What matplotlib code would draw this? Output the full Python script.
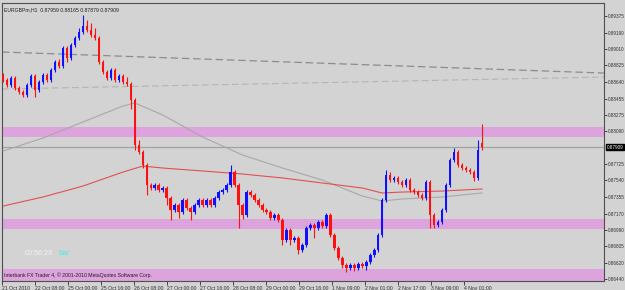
import matplotlib
matplotlib.use("Agg")
import matplotlib.pyplot as plt
import numpy as np

plt.rcParams['font.family'] = ['Liberation Sans', 'DejaVu Sans']

# ---------------- data ----------------
opens = [0.88717, 0.88661, 0.88605, 0.88683, 0.88572, 0.88527, 0.88494, 0.88605, 0.88705, 0.88549,
         0.88638, 0.88717, 0.88661, 0.88773, 0.88862, 0.88817, 0.89018, 0.88907, 0.89052, 0.89130,
         0.89197, 0.89264, 0.89219, 0.89163, 0.89130, 0.88862, 0.88750, 0.88683, 0.88773, 0.88661,
         0.88705, 0.88638, 0.88617, 0.88438, 0.87936, 0.87858, 0.87713, 0.87489, 0.87456, 0.87489,
         0.87434, 0.87456, 0.87344, 0.87210, 0.87266, 0.87188, 0.87322, 0.87233, 0.87188, 0.87266,
         0.87322, 0.87266, 0.87322, 0.87266, 0.87344, 0.87411, 0.87434, 0.87489, 0.87634, 0.87489,
         0.87266, 0.87155, 0.87411, 0.87378, 0.87322, 0.87266, 0.87210, 0.87188, 0.87121, 0.87155,
         0.87099, 0.86876, 0.86987, 0.86876, 0.86898, 0.86764, 0.86820, 0.87010, 0.87043, 0.87010,
         0.87076, 0.87032, 0.87155, 0.86931, 0.86786, 0.86675, 0.86597, 0.86563, 0.86597, 0.86563,
         0.86608, 0.86585, 0.86630, 0.86708, 0.86764, 0.86931, 0.87322, 0.87601, 0.87545, 0.87568,
         0.87523, 0.87489, 0.87545, 0.87434, 0.87411, 0.87378, 0.87344, 0.87523, 0.87155, 0.87043,
         0.87076, 0.87210, 0.87489, 0.87768, 0.87858, 0.87713, 0.87679, 0.87657, 0.87634, 0.87568,
         0.87959]
closes = [0.88661, 0.88605, 0.88683, 0.88572, 0.88527, 0.88494, 0.88605, 0.88705, 0.88549, 0.88638,
          0.88717, 0.88661, 0.88773, 0.88862, 0.88817, 0.89018, 0.88907, 0.89052, 0.89130, 0.89197,
          0.89264, 0.89219, 0.89163, 0.89130, 0.88862, 0.88750, 0.88683, 0.88773, 0.88661, 0.88705,
          0.88638, 0.88617, 0.88438, 0.87936, 0.87858, 0.87713, 0.87489, 0.87456, 0.87489, 0.87434,
          0.87456, 0.87344, 0.87210, 0.87266, 0.87188, 0.87322, 0.87233, 0.87188, 0.87266, 0.87322,
          0.87266, 0.87322, 0.87266, 0.87344, 0.87411, 0.87434, 0.87489, 0.87634, 0.87489, 0.87266,
          0.87155, 0.87411, 0.87378, 0.87322, 0.87266, 0.87210, 0.87188, 0.87121, 0.87155, 0.87099,
          0.86876, 0.86987, 0.86876, 0.86898, 0.86764, 0.86820, 0.87010, 0.87043, 0.87010, 0.87076,
          0.87032, 0.87155, 0.86931, 0.86786, 0.86675, 0.86597, 0.86563, 0.86597, 0.86563, 0.86608,
          0.86585, 0.86630, 0.86708, 0.86764, 0.86931, 0.87322, 0.87601, 0.87545, 0.87568, 0.87523,
          0.87489, 0.87545, 0.87434, 0.87411, 0.87378, 0.87344, 0.87523, 0.87155, 0.87043, 0.87076,
          0.87210, 0.87489, 0.87768, 0.87858, 0.87713, 0.87679, 0.87657, 0.87634, 0.87568, 0.87880,
          0.87909]
highs = [0.88742, 0.88686, 0.88708, 0.88708, 0.88597, 0.88552, 0.88630, 0.88730, 0.88730, 0.88663,
         0.88742, 0.88742, 0.88798, 0.88887, 0.88900, 0.89043, 0.89043, 0.89077, 0.89155, 0.89240,
         0.89387, 0.89330, 0.89300, 0.89240, 0.89155, 0.88887, 0.88775, 0.88798, 0.88798, 0.88730,
         0.88730, 0.88700, 0.88642, 0.88463, 0.87990, 0.87883, 0.87738, 0.87514, 0.87514, 0.87514,
         0.87481, 0.87481, 0.87369, 0.87291, 0.87291, 0.87347, 0.87347, 0.87258, 0.87291, 0.87347,
         0.87347, 0.87347, 0.87347, 0.87369, 0.87436, 0.87459, 0.87514, 0.87713, 0.87659, 0.87514,
         0.87291, 0.87436, 0.87436, 0.87403, 0.87347, 0.87291, 0.87235, 0.87213, 0.87180, 0.87180,
         0.87124, 0.87012, 0.87012, 0.86923, 0.86923, 0.86845, 0.87035, 0.87068, 0.87068, 0.87101,
         0.87101, 0.87180, 0.87180, 0.86956, 0.86811, 0.86700, 0.86622, 0.86622, 0.86622, 0.86633,
         0.86633, 0.86655, 0.86733, 0.86789, 0.86956, 0.87347, 0.87660, 0.87640, 0.87593, 0.87593,
         0.87548, 0.87570, 0.87570, 0.87459, 0.87436, 0.87403, 0.87548, 0.87548, 0.87180, 0.87101,
         0.87235, 0.87514, 0.87793, 0.87902, 0.87883, 0.87738, 0.87704, 0.87682, 0.87659, 0.87990,
         0.88165]
lows = [0.88636, 0.88580, 0.88580, 0.88547, 0.88502, 0.88469, 0.88469, 0.88580, 0.88472, 0.88524,
        0.88613, 0.88636, 0.88636, 0.88748, 0.88792, 0.88792, 0.88862, 0.88882, 0.89027, 0.89105,
        0.89172, 0.89194, 0.89138, 0.89105, 0.88837, 0.88725, 0.88658, 0.88658, 0.88636, 0.88636,
        0.88613, 0.88592, 0.88340, 0.87880, 0.87833, 0.87680, 0.87380, 0.87431, 0.87431, 0.87409,
        0.87409, 0.87266, 0.87099, 0.87185, 0.87121, 0.87163, 0.87208, 0.87099, 0.87163, 0.87241,
        0.87241, 0.87241, 0.87241, 0.87241, 0.87319, 0.87386, 0.87409, 0.87464, 0.87464, 0.87010,
        0.87110, 0.87130, 0.87353, 0.87297, 0.87241, 0.87185, 0.87163, 0.87096, 0.87096, 0.87074,
        0.86820, 0.86851, 0.86820, 0.86851, 0.86720, 0.86739, 0.86795, 0.86985, 0.86900, 0.86985,
        0.87007, 0.87007, 0.86906, 0.86761, 0.86650, 0.86560, 0.86518, 0.86538, 0.86530, 0.86538,
        0.86560, 0.86540, 0.86605, 0.86683, 0.86739, 0.86906, 0.87297, 0.87520, 0.87520, 0.87498,
        0.87464, 0.87464, 0.87409, 0.87386, 0.87353, 0.87319, 0.87319, 0.87010, 0.87010, 0.87018,
        0.87051, 0.87185, 0.87464, 0.87743, 0.87688, 0.87654, 0.87632, 0.87609, 0.87530, 0.87543,
        0.87879]

# moving averages sampled at bar indices
ma_bars = [0, 10, 20, 30, 33, 40, 50, 60, 70, 80, 90, 95, 100, 110, 120]
ma_gray = [0.87869, 0.88014, 0.88193, 0.88371, 0.88405, 0.88271, 0.88025, 0.87824, 0.87679,
           0.87545, 0.87367, 0.87311, 0.87333, 0.87356, 0.87400]
ma_red_bars = [0, 10, 20, 30, 35, 40, 50, 60, 70, 80, 90, 95, 100, 110, 120]
ma_red = [0.87255, 0.87356, 0.87478, 0.87634, 0.87701, 0.87679, 0.87646, 0.87612, 0.87568,
          0.87512, 0.87456, 0.87400, 0.87411, 0.87422, 0.87445]

# trend lines (price at left edge, price at right edge)
trend_dark = [0.88974, 0.88739]
trend_light = [0.88561, 0.88695]

# zones
zones = [(0.88025, 0.88137), (0.86998, 0.87110), (0.86300, 0.86552)]

current_price = 0.87909
price_labels = ["0.89375", "0.89190", "0.89010", "0.88825", "0.88640", "0.88455", "0.88275",
                "0.88090", "0.87725", "0.87540", "0.87355", "0.87170", "0.86990", "0.86805",
                "0.86620", "0.86440"]
date_labels = ["21 Oct 2010", "22 Oct 08:00", "25 Oct 00:00", "25 Oct 16:00", "26 Oct 08:00",
               "27 Oct 00:00", "27 Oct 16:00", "28 Oct 08:00", "29 Oct 00:00", "29 Oct 16:00",
               "1 Nov 09:00", "2 Nov 01:00", "2 Nov 17:00", "3 Nov 09:00", "4 Nov 01:00"]

header = "EURGBPm,H1  0.87959 0.88165 0.87879 0.87909"
footer = "Interbank FX Trader 4, \u00a9 2001-2010 MetaQuotes Software Corp."

# ---------------- figure ----------------
W, H = 625, 290
bg = "#d4d3d4"
fs = 3.7
fig = plt.figure(figsize=(W / 100, H / 100), dpi=100, facecolor=bg)
ax = fig.add_axes([2 / W, (H - 281) / H, (604 - 2) / W, (281 - 3) / H], facecolor=bg)

n = len(closes)
x = np.arange(n)
ax.set_xlim(-0.3, 150.6)
ax.set_ylim(0.86418, 0.89521)

# zones
for lo, hi in zones:
    ax.axhspan(lo, hi, color="#dca3dc", lw=0, zorder=1)

# current price line
ax.axhline(current_price, color="#a0a4a0", lw=0.9, zorder=2)

# trend lines
xl = ax.get_xlim()
ax.plot(xl, trend_dark, color="#8c8c8c", lw=0.9, ls=(0, (6, 3)), zorder=2)
ax.plot(xl, trend_light, color="#b4b4b4", lw=0.8, ls=(0, (6, 3)), zorder=2)

# moving averages
ax.plot(ma_bars, ma_gray, color="#a8a8a8", lw=0.8, zorder=3)
ax.plot(ma_red_bars, ma_red, color="#e05050", lw=0.8, zorder=3)

# candles
o = np.array(opens); c = np.array(closes); h = np.array(highs); l = np.array(lows)
up = c >= o
cols = np.where(up, "#1010ff", "#ff1010")
ax.vlines(x, l, h, colors=cols, lw=0.8, zorder=4)
body_lo = np.minimum(o, c)
body_h = np.maximum(np.abs(c - o), 0.00004)
ax.bar(x, body_h, bottom=body_lo, width=0.65, color=cols, lw=0, zorder=5)

# axes styling
for s in ax.spines.values():
    s.set_color("#505050")
    s.set_linewidth(0.8)
ax.yaxis.tick_right()
ax.set_yticks([float(v) for v in price_labels])
ax.set_yticklabels(price_labels)
ax.tick_params(axis="y", direction="out", length=2, width=0.6, pad=0.8,
               labelsize=3.3, colors="#303030")
xt = [k * 8.27 - 0.3 for k in range(len(date_labels))]
ax.set_xticks(xt)
ax.set_xticklabels(date_labels)
ax.tick_params(axis="x", direction="out", length=3, width=0.6, pad=0.8,
               labelsize=fs, colors="#303030")
for lab in ax.get_xticklabels():
    lab.set_horizontalalignment("left")

# current price box on right axis
ax.text(1.0045, current_price, f"{current_price:.5f}", transform=ax.get_yaxis_transform(),
        fontsize=3.3, color="white", va="center", ha="left",
        bbox=dict(boxstyle="square,pad=0.12", fc="black", ec="black"), zorder=10,
        clip_on=False)

# texts
ax.text(0.004, 0.985, header, transform=ax.transAxes, fontsize=fs, color="#202020",
        va="top", ha="left")
ax.text(0.004, 0.012, footer, transform=ax.transAxes, fontsize=fs, color="#202020",
        va="bottom", ha="left", zorder=10)
ax.text(0.038, 0.10, "00:56:28", transform=ax.transAxes, fontsize=5.2, color="#f4f4f4",
        va="center", ha="left")
ax.text(0.093, 0.10, "Bar", transform=ax.transAxes, fontsize=5.2, color="#50e8e8",
        va="center", ha="left")

fig.savefig("out.png", dpi=100, facecolor=bg)
